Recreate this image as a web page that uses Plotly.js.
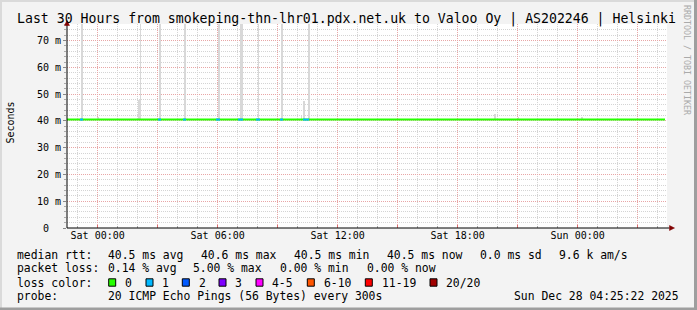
<!DOCTYPE html>
<html><head><meta charset="utf-8">
<script src="https://cdn.plot.ly/plotly-3.0.1.min.js"></script>
<style>html,body{margin:0;padding:0;background:#f3f3f3;overflow:hidden;} #chart{width:697px;height:310px;}</style>
</head><body><div id="chart"></div>
<script>
// ---------- data ----------
const titleText = 'Last 30 Hours from smokeping-thn-lhr01.pdx.net.uk to Valoo Oy | AS202246 | Helsinki';
const rangeStart = '2025-12-26 22:28';
const rangeEnd = '2025-12-28 04:28';

const xTickVals = ['2025-12-27 00:00','2025-12-27 03:00','2025-12-27 06:00','2025-12-27 09:00','2025-12-27 12:00','2025-12-27 15:00','2025-12-27 18:00','2025-12-27 21:00','2025-12-28 00:00','2025-12-28 03:00'];
const xTickText = ['Sat 00:00','','Sat 06:00','','Sat 12:00','','Sat 18:00','','Sun 00:00',''];

const yTickVals = [0,10,20,30,40,50,60,70];
const yTickText = ['0\u00a0\u00a0','10 m','20 m','30 m','40 m','50 m','60 m','70 m'];

// median rtt (ms)
const medianTimes = ['2025-12-26 22:28','2025-12-27 06:00','2025-12-27 12:00','2025-12-27 18:00','2025-12-28 00:00','2025-12-28 04:22'];
const medianRtt = [40.5,40.5,40.5,40.5,40.5,40.5];

// packet loss periods (pings lost out of 20)
const lossStart = ['2025-12-26 23:07','2025-12-27 03:01','2025-12-27 04:16','2025-12-27 05:55','2025-12-27 07:01','2025-12-27 07:55','2025-12-27 09:07','2025-12-27 10:16'];
const lossEnd   = ['2025-12-26 23:16','2025-12-27 03:10','2025-12-27 04:25','2025-12-27 06:07','2025-12-27 07:16','2025-12-27 08:07','2025-12-27 09:16','2025-12-27 10:34'];
const lossPings = [1,1,1,1,1,1,1,1];

// smoke: max rtt of outlying pings (ms)
const smokeTimes = ['2025-12-26 23:12','2025-12-27 00:01','2025-12-27 02:04','2025-12-27 02:08','2025-12-27 03:07','2025-12-27 04:22','2025-12-27 06:04','2025-12-27 07:10','2025-12-27 07:14','2025-12-27 08:02','2025-12-27 09:13','2025-12-27 10:11','2025-12-27 10:19','2025-12-27 10:34','2025-12-27 19:52','2025-12-27 21:02','2025-12-28 00:13'];
const smokeMax = [80,41.3,47.8,80,80,80,80,80,80,80,80,42,47.6,80,42.5,41.3,41.3];

// legend
const lossLabels = ['0','1','2','3','4-5','6-10','11-19','20/20'];
const lossColors = ['#26ff00','#00b8ff','#0059ff','#7e00ff','#ff00ff','#ff5500','#ff0000','#a10000'];
const lossUpper  = [0,1,2,3,5,10,19,20];
const rttStats  = ['40.5 ms avg','40.6 ms max','40.5 ms min','40.5 ms now','0.0 ms sd','9.6 k am/s'];
const lossStats = ['0.14 % avg','5.00 % max','0.00 % min','0.00 % now'];
const probeText = '20 ICMP Echo Pings (56 Bytes) every 300s';
const stampText = 'Sun Dec 28 04:25:22 2025';
const watermark = 'RRDTOOL / TOBI OETIKER';

// ---------- layout helpers ----------
const W = 697, H = 310, L = 67, R = 667, T = 24, B = 228;
const px = p => (p - L) / (R - L);
const py = p => (B - p) / (B - T);
const FONT = 'DejaVu Sans Mono, monospace';

function colorFor(n){ for (let i=0;i<lossUpper.length;i++){ if (n<=lossUpper[i]) return lossColors[i]; } return lossColors[lossColors.length-1]; }

const STEP = 300000;
const traces = [];
traces.push({
  type:'bar', x: smokeTimes, y: smokeMax.map(v => v - medianRtt[0]), base: medianRtt[0],
  width: STEP, marker:{color:'#d8d8d8', line:{width:0}}, hoverinfo:'skip', showlegend:false
});
traces.push({
  type:'scatter', mode:'lines', x: medianTimes, y: medianRtt,
  line:{color: lossColors[0], width:2}, hoverinfo:'skip', showlegend:false
});
const groups = {};
lossStart.forEach((s,i) => {
  const c = colorFor(lossPings[i]);
  if (!groups[c]) groups[c] = {x:[], y:[]};
  groups[c].x.push(s, lossEnd[i], null);
  groups[c].y.push(medianRtt[0], medianRtt[0], null);
});
Object.keys(groups).forEach(c => traces.push({
  type:'scatter', mode:'lines', x: groups[c].x, y: groups[c].y, connectgaps:false,
  line:{color:c, width:2}, hoverinfo:'skip', showlegend:false
}));

const ann = [];
function txt(t, x, y, opts){ ann.push(Object.assign({text:t, xref:'paper', yref:'paper', x:px(x), y:py(y), xanchor:'left', yanchor:'middle', showarrow:false, borderpad:0, font:{family:FONT, size:11.4, color:'#000'}}, opts||{})); }

txt(titleText, 16, 18.5, {font:{family:FONT, size:13.2, color:'#000'}});
txt('Seconds', 10, 122.5, {xanchor:'center', textangle:-90, font:{family:FONT, size:10, color:'#000'}});
txt(watermark, 687, 60, {xanchor:'center', textangle:90, font:{family:FONT, size:8.3, color:'#aaaaaa'}});

const Y1 = 254.5, Y2 = 268.3, Y3 = 282.5, Y4 = 296.2;
txt('median rtt:', 16, Y1);
[107,200,292.7,386,479.3,558.3].forEach((x,i) => txt(rttStats[i], x, Y1));
txt('packet loss:', 16, Y2);
[107,192,279,365.7].forEach((x,i) => txt(lossStats[i], x, Y2));
txt('loss color:', 16, Y3);
const swX = [108.7,146,182.3,219,256,307.3,365.3,430];
txt('probe:', 16, Y4);
txt(probeText, 107, Y4);
txt(stampText, 680, Y4, {xanchor:'right'});

const shapes = [];
swX.forEach((x,i) => {
  shapes.push({type:'rect', xref:'paper', yref:'paper', x0:px(x), x1:px(x+7), y0:py(Y3+3.7), y1:py(Y3-3.7), fillcolor:lossColors[i], line:{color:'#000', width:1}});
  txt(lossLabels[i], x+15.3, Y3);
});

// axes with arrows
shapes.push({type:'line', xref:'paper', yref:'paper', x0:0, x1:0, y0:0, y1:py(25), line:{color:'#000', width:1}, layer:'above'});
shapes.push({type:'line', xref:'paper', yref:'paper', x0:0, x1:px(669.5), y0:0, y1:0, line:{color:'#000', width:1}, layer:'above'});
shapes.push({type:'path', xref:'paper', yref:'paper', path:`M ${px(67)} ${py(20.5)} L ${px(64.5)} ${py(25.5)} L ${px(69.5)} ${py(25.5)} Z`, fillcolor:'#800000', line:{color:'#800000', width:0.5}, layer:'above'});
shapes.push({type:'path', xref:'paper', yref:'paper', path:`M ${px(674.5)} ${py(228)} L ${px(669.5)} ${py(225.5)} L ${px(669.5)} ${py(230.5)} Z`, fillcolor:'#800000', line:{color:'#800000', width:0.5}, layer:'above'});

// image frame
shapes.push({type:'rect', xref:'paper', yref:'paper', x0:px(0), x1:px(W), y0:py(0), y1:py(2), fillcolor:'#dadada', line:{width:0}});
shapes.push({type:'rect', xref:'paper', yref:'paper', x0:px(0), x1:px(2), y0:py(0), y1:py(H), fillcolor:'#dadada', line:{width:0}});
shapes.push({type:'rect', xref:'paper', yref:'paper', x0:px(0), x1:px(W), y0:py(307.5), y1:py(H), fillcolor:'#9e9e9e', line:{width:0}});
shapes.push({type:'rect', xref:'paper', yref:'paper', x0:px(694), x1:px(W), y0:py(0), y1:py(H), fillcolor:'#9e9e9e', line:{width:0}});

const layout = {
  width: W, height: H,
  margin: {l: L, r: W - R, t: T, b: H - B, pad: 0},
  paper_bgcolor: '#f3f3f3', plot_bgcolor: '#ffffff',
  showlegend: false, bargap: 0,
  xaxis: {
    type:'date', range:[rangeStart, rangeEnd], fixedrange:true,
    tickmode:'array', tickvals:xTickVals, ticktext:xTickText,
    showgrid:true, gridcolor:'#e8a6a6', griddash:'1px,1px', gridwidth:1,
    ticks:'inside', ticklen:3, tickcolor:'#e07070',
    minor:{dtick:3600000, tick0:'2025-12-27 00:00', showgrid:true, gridcolor:'#d4d4d4', griddash:'1px,1px', ticks:'inside', ticklen:2, tickcolor:'#aaaaaa'},
    tickfont:{family:FONT, size:10, color:'#000'}, zeroline:false, showline:false, automargin:false
  },
  yaxis: {
    range:[0,76.2], fixedrange:true,
    tickmode:'array', tickvals:yTickVals, ticktext:yTickText,
    showgrid:true, gridcolor:'#e8a6a6', griddash:'1px,1px', gridwidth:1,
    ticks:'outside', ticklen:3, tickcolor:'#888888',
    minor:{dtick:2, tick0:0, showgrid:true, gridcolor:'#d4d4d4', griddash:'1px,1px', ticks:'outside', ticklen:2, tickcolor:'#aaaaaa'},
    tickfont:{family:FONT, size:10, color:'#000'}, zeroline:false, showline:false, automargin:false
  },
  annotations: ann, shapes: shapes
};
Plotly.newPlot('chart', traces, layout, {displayModeBar:false, staticPlot:true});
</script></body></html>
